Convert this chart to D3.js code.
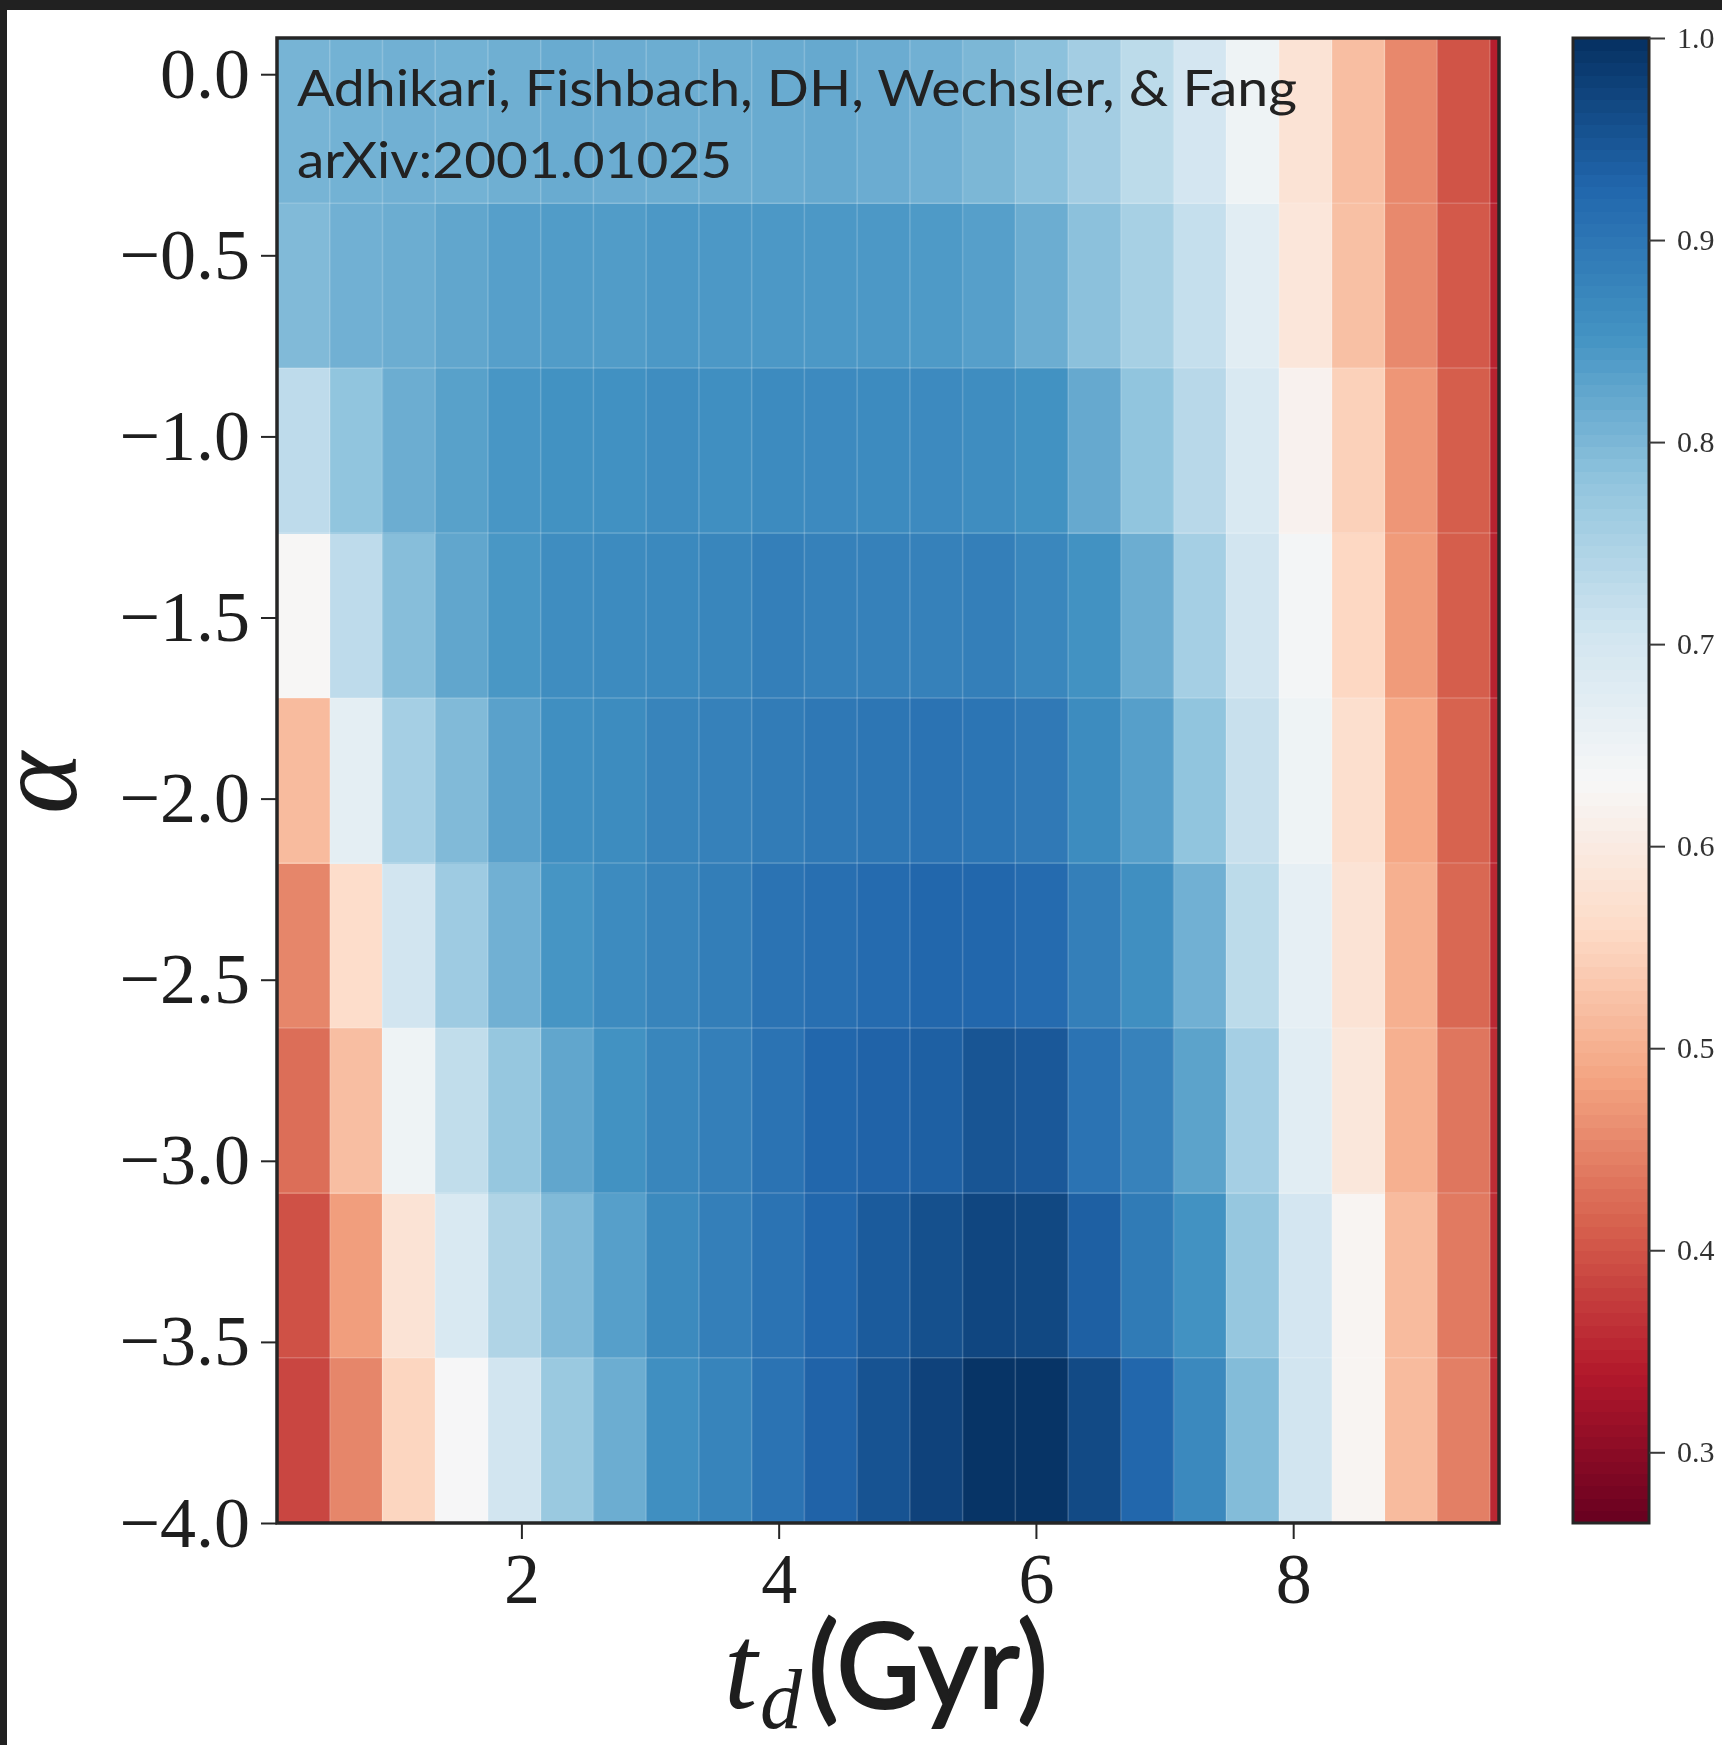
<!DOCTYPE html>
<html>
<head>
<meta charset="utf-8">
<script src="https://cdn.jsdelivr.net/npm/d3@7"></script>
<style>
  html, body { margin: 0; padding: 0; background: #ffffff; }
  svg { display: block; }
</style>
</head>
<body>
<script>
// Bin edges of the (t_d, alpha) grid; the last t_d bin runs past the axis limit
const tdEdges = [0.10, 0.51, 0.92, 1.33, 1.74, 2.15, 2.56, 2.97, 3.38, 3.79,
                 4.20, 4.61, 5.02, 5.43, 5.84, 6.25, 6.66, 7.07, 7.48, 7.89,
                 8.30, 8.71, 9.12, 9.53, 9.94];
const alphaEdges = [-4.0, -3.544, -3.089, -2.633, -2.178, -1.722, -1.267, -0.811, -0.356, 0.1];
const tdLimits = [0.1, 9.6];
const alphaLimits = [-4.0, 0.1];

// Grid values, one row per alpha bin (lowest alpha first), one entry per t_d bin
const rowA0 = [0.385, 0.452, 0.552, 0.635, 0.705, 0.770, 0.815, 0.860, 0.878, 0.905, 0.930, 0.952, 0.975, 0.995, 0.995, 0.965, 0.925, 0.870, 0.793, 0.705, 0.625, 0.515, 0.445, 0.355];
const rowA1 = [0.397, 0.478, 0.580, 0.690, 0.745, 0.795, 0.835, 0.868, 0.886, 0.905, 0.925, 0.942, 0.957, 0.970, 0.968, 0.935, 0.893, 0.855, 0.775, 0.700, 0.625, 0.515, 0.440, 0.360];
const rowA2 = [0.427, 0.520, 0.650, 0.725, 0.775, 0.825, 0.855, 0.875, 0.885, 0.905, 0.925, 0.930, 0.935, 0.950, 0.945, 0.905, 0.880, 0.830, 0.757, 0.675, 0.590, 0.500, 0.435, 0.360];
const rowA3 = [0.452, 0.565, 0.705, 0.765, 0.810, 0.850, 0.866, 0.877, 0.888, 0.905, 0.912, 0.918, 0.925, 0.925, 0.918, 0.886, 0.860, 0.810, 0.730, 0.665, 0.580, 0.500, 0.420, 0.355];
const rowA4 = [0.515, 0.670, 0.757, 0.795, 0.832, 0.860, 0.865, 0.877, 0.882, 0.890, 0.897, 0.900, 0.905, 0.902, 0.895, 0.865, 0.835, 0.780, 0.717, 0.650, 0.570, 0.490, 0.415, 0.355];
const rowA5 = [0.630, 0.728, 0.790, 0.825, 0.847, 0.862, 0.866, 0.870, 0.875, 0.885, 0.882, 0.882, 0.882, 0.885, 0.872, 0.855, 0.815, 0.757, 0.705, 0.640, 0.555, 0.475, 0.410, 0.350];
const rowA6 = [0.728, 0.780, 0.815, 0.833, 0.848, 0.855, 0.857, 0.862, 0.860, 0.866, 0.867, 0.866, 0.867, 0.862, 0.855, 0.820, 0.780, 0.735, 0.690, 0.618, 0.545, 0.470, 0.410, 0.350];
const rowA7 = [0.795, 0.810, 0.815, 0.825, 0.835, 0.840, 0.840, 0.845, 0.845, 0.845, 0.845, 0.845, 0.843, 0.835, 0.815, 0.785, 0.755, 0.720, 0.675, 0.588, 0.522, 0.456, 0.405, 0.350];
const rowA8 = [0.805, 0.808, 0.810, 0.808, 0.812, 0.818, 0.816, 0.815, 0.815, 0.818, 0.820, 0.816, 0.810, 0.800, 0.785, 0.760, 0.730, 0.700, 0.650, 0.580, 0.520, 0.455, 0.400, 0.345];
const gridRows = [rowA0, rowA1, rowA2, rowA3, rowA4, rowA5, rowA6, rowA7, rowA8];

// Axis ticks
const xTicks = [2, 4, 6, 8];
const yTicks = [0.0, -0.5, -1.0, -1.5, -2.0, -2.5, -3.0, -3.5, -4.0];
const cbTicks = [0.3, 0.4, 0.5, 0.6, 0.7, 0.8, 0.9, 1.0];

// Diverging red-blue palette and colour range
const rdbu = ["#67001f", "#b2182b", "#d6604d", "#f4a582", "#fddbc7", "#f7f7f7",
              "#d1e5f0", "#92c5de", "#4393c3", "#2166ac", "#053061"];
const colorRange = [0.265, 1.0];

const creditLines = ["Adhikari, Fishbach, DH, Wechsler, & Fang", "arXiv:2001.01025"];

const W = 1722, H = 1745;
const svg = d3.select("body").append("svg").attr("width", W).attr("height", H);

const plot = { left: 277, right: 1499, top: 38, bottom: 1523 };

const defs = svg.append("defs");
defs.append("filter").attr("id", "soft")
  .append("feGaussianBlur").attr("stdDeviation", 0.7);
defs.append("clipPath").attr("id", "plot-clip")
  .append("rect").attr("x", plot.left).attr("y", plot.top)
  .attr("width", plot.right - plot.left).attr("height", plot.bottom - plot.top);

svg.append("rect").attr("width", W).attr("height", H).attr("fill", "#ffffff");
// dark window frame along the top and left
svg.append("rect").attr("x", 0).attr("y", 0).attr("width", W).attr("height", 10).attr("fill", "#212121");
svg.append("rect").attr("x", 0).attr("y", 0).attr("width", 7).attr("height", H).attr("fill", "#212121");

const x = d3.scaleLinear().domain(tdLimits).range([plot.left, plot.right]);
const y = d3.scaleLinear().domain(alphaLimits).range([plot.bottom, plot.top]);

const colorStops = rdbu.map((_, i) => colorRange[0] + (colorRange[1] - colorRange[0]) * i / (rdbu.length - 1));
const color = d3.scaleLinear().domain(colorStops).range(rdbu).interpolate(d3.interpolateRgb).clamp(true);

// heatmap cells
const cells = [];
gridRows.forEach((row, j) => row.forEach((v, i) => cells.push({ i, j, v })));
const map = svg.append("g").attr("clip-path", "url(#plot-clip)");
map.append("g").attr("shape-rendering", "crispEdges")
  .selectAll("rect").data(cells).join("rect")
  .attr("x", d => x(tdEdges[d.i]))
  .attr("y", d => y(alphaEdges[d.j + 1]))
  .attr("width", d => x(tdEdges[d.i + 1]) - x(tdEdges[d.i]) + 0.5)
  .attr("height", d => y(alphaEdges[d.j]) - y(alphaEdges[d.j + 1]) + 0.5)
  .attr("fill", d => color(d.v));

// faint seams between cells
const seams = map.append("g").attr("stroke", "#ffffff").attr("stroke-opacity", 0.2).attr("stroke-width", 1.5);
seams.selectAll("line.v").data(tdEdges.slice(1, -1)).join("line").attr("class", "v")
  .attr("x1", d => x(d)).attr("x2", d => x(d)).attr("y1", plot.top).attr("y2", plot.bottom);
seams.selectAll("line.h").data(alphaEdges.slice(1, -1)).join("line").attr("class", "h")
  .attr("y1", d => y(d)).attr("y2", d => y(d)).attr("x1", plot.left).attr("x2", plot.right);

// credit annotation
const credit = svg.append("g").attr("font-family", "Lato, 'Open Sans', sans-serif")
  .attr("font-size", 51).attr("fill", "#222222");
credit.append("text").attr("x", 297).attr("y", 106).attr("textLength", 1000)
  .attr("lengthAdjust", "spacingAndGlyphs").text(creditLines[0]);
credit.append("text").attr("x", 297).attr("y", 178).attr("textLength", 435)
  .attr("lengthAdjust", "spacingAndGlyphs").text(creditLines[1]);

// axes frame
svg.append("rect").attr("x", plot.left).attr("y", plot.top)
  .attr("width", plot.right - plot.left).attr("height", plot.bottom - plot.top)
  .attr("fill", "none").attr("stroke", "#262626").attr("stroke-width", 3.5);

const fmt = d3.format(".1f");
const styleAxis = (g, size) => {
  g.select(".domain").remove();
  g.selectAll(".tick line").attr("stroke", "#262626").attr("stroke-width", 2);
  g.selectAll(".tick text").attr("fill", "#1e1e1e")
    .attr("font-family", "'Liberation Serif', 'DejaVu Serif', serif").attr("font-size", size);
};

svg.append("g").attr("transform", `translate(${plot.left},0)`)
  .call(d3.axisLeft(y).tickValues(yTicks).tickFormat(fmt).tickSize(16).tickPadding(11))
  .call(g => styleAxis(g, 72));

svg.append("g").attr("transform", `translate(0,${plot.bottom})`)
  .call(d3.axisBottom(x).tickValues(xTicks).tickFormat(d3.format("d")).tickSize(16).tickPadding(13))
  .call(g => styleAxis(g, 72));

// axis titles
svg.append("text").attr("transform", "translate(76,783) rotate(-90)")
  .attr("text-anchor", "middle").attr("font-family", "'Liberation Serif', 'DejaVu Serif', serif")
  .attr("font-style", "italic").attr("font-size", 118).attr("fill", "#1e1e1e").text("α");

const xTitle = svg.append("g").attr("fill", "#1e1e1e");
xTitle.append("text").attr("x", 724).attr("y", 1708)
  .attr("font-family", "'Liberation Serif', 'DejaVu Serif', serif").attr("font-style", "italic")
  .attr("font-size", 120).text("t");
xTitle.append("text").attr("x", 760).attr("y", 1728)
  .attr("font-family", "'Liberation Serif', 'DejaVu Serif', serif").attr("font-style", "italic")
  .attr("font-size", 84).text("d");
xTitle.append("text").attr("x", 808).attr("y", 1708)
  .attr("font-family", "Lato, 'Open Sans', sans-serif").attr("font-weight", "normal")
  .attr("stroke", "#1e1e1e").attr("stroke-width", 2.2)
  .attr("font-size", 118).attr("textLength", 240).attr("lengthAdjust", "spacingAndGlyphs")
  .text("(Gyr)");

// colour bar
const cb = { left: 1573, right: 1649, top: 38, bottom: 1523 };
const cy = d3.scaleLinear().domain(colorRange).range([cb.bottom, cb.top]);
const nBands = 120;
const bands = d3.range(nBands).map(k => colorRange[0] + (colorRange[1] - colorRange[0]) * (k + 0.5) / nBands);
const bandH = (cb.bottom - cb.top) / nBands;
svg.append("g").attr("shape-rendering", "crispEdges")
  .selectAll("rect").data(bands).join("rect")
  .attr("x", cb.left).attr("width", cb.right - cb.left)
  .attr("y", d => cy(d) - bandH / 2).attr("height", bandH + 0.6)
  .attr("fill", d => color(d));
svg.append("rect").attr("x", cb.left).attr("y", cb.top)
  .attr("width", cb.right - cb.left).attr("height", cb.bottom - cb.top)
  .attr("fill", "none").attr("stroke", "#262626").attr("stroke-width", 3);

svg.append("g").attr("transform", `translate(${cb.right},0)`)
  .call(d3.axisRight(cy).tickValues(cbTicks).tickFormat(fmt).tickSize(16).tickPadding(12))
  .call(g => {
    styleAxis(g, 30);
    g.selectAll(".tick line").attr("stroke", "#3a3a3a");
    g.selectAll(".tick text").attr("fill", "#333333").attr("filter", "url(#soft)");
  });
</script>
</body>
</html>
